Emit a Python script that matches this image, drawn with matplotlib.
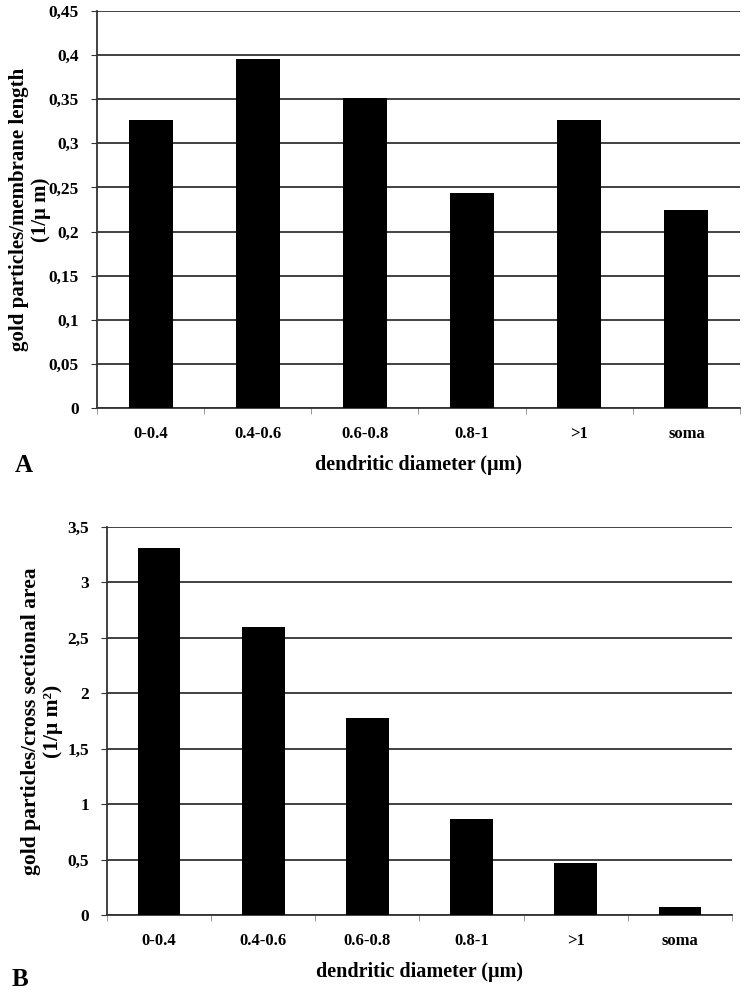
import matplotlib
matplotlib.use('Agg')
import matplotlib.pyplot as plt
import numpy as np

categories = ['0-0.4', '0.4-0.6', '0.6-0.8', '0.8-1', '>1', 'soma']
per_length = [0.327, 0.396, 0.351, 0.244, 0.327, 0.225]
per_area = [3.31, 2.60, 1.775, 0.865, 0.47, 0.075]

length_ticks = [0, 0.05, 0.1, 0.15, 0.2, 0.25, 0.3, 0.35, 0.4, 0.45]
area_ticks = [0, 0.5, 1, 1.5, 2, 2.5, 3, 3.5]

plt.rcParams['font.family'] = ['Liberation Serif', 'DejaVu Serif']
plt.rcParams['font.weight'] = 'bold'


def fmt(v):
    s = ('%g' % v).replace('.', ',')
    return s


def draw_panel(ax, values, ticks, ylabel, label_x, label_size):
    x = np.arange(len(categories))
    ax.bar(x, values, width=0.41, color='black', zorder=3)
    ax.set_xlim(-0.5, len(categories) - 0.5)
    ax.set_ylim(ticks[0], ticks[-1])
    ax.set_yticks(ticks)
    ax.set_yticklabels([fmt(t) for t in ticks], fontsize=12.5, fontweight='bold')
    ax.set_xticks(x)
    ax.set_xticklabels(categories, fontsize=12, fontweight='bold')
    ax.set_xticks(np.arange(len(categories) + 1) - 0.5, minor=True)
    ax.tick_params(axis='x', which='major', length=0, pad=13)
    ax.tick_params(axis='x', which='minor', length=4, color='#888888', direction='out')
    ax.tick_params(axis='y', length=4, color='#333333', pad=9)
    ax.yaxis.grid(True, color='#333333', linewidth=1.3, zorder=0)
    ax.set_axisbelow(True)
    for side in ('top', 'right'):
        ax.spines[side].set_visible(False)
    for side in ('left', 'bottom'):
        ax.spines[side].set_color('#333333')
        ax.spines[side].set_linewidth(1.3)
    ax.set_ylabel(ylabel, fontsize=label_size, fontweight='bold', linespacing=1.1)
    ax.yaxis.set_label_coords(label_x, 0.5)
    ax.set_xlabel('dendritic diameter (\u03bcm)', fontsize=14.5, fontweight='bold', labelpad=9)


fig = plt.figure(figsize=(7.48, 9.91), dpi=100)
ax1 = fig.add_axes([97 / 748, 1 - 408 / 991, 643 / 748, 397 / 991])
ax2 = fig.add_axes([107 / 748, 1 - 915 / 991, 625 / 748, 388 / 991])

draw_panel(ax1, per_length, length_ticks,
           'gold particles/membrane length\n(1/\u03bc m)', (51 - 97) / 643, 15)
draw_panel(ax2, per_area, area_ticks,
           'gold particles/cross sectional area\n(1/\u03bc m\u00b2)', (63 - 107) / 625, 15.5)

fig.text(15 / 748, 1 - 466 / 991, 'A', fontsize=18, fontweight='bold', va='center')
fig.text(12 / 748, 1 - 980 / 991, 'B', fontsize=18, fontweight='bold', va='center')

fig.savefig('out.png', dpi=100)
